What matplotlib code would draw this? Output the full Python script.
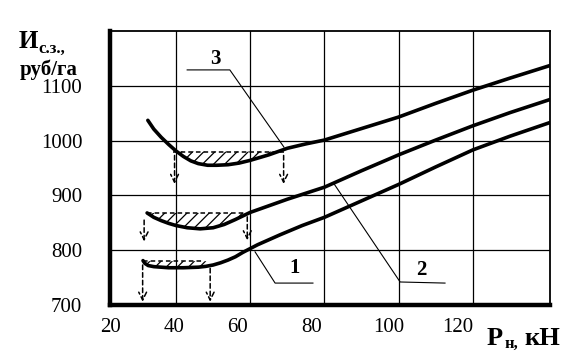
import numpy as np
import matplotlib.pyplot as plt

# Р_н (kN) vs И_с.з. (rub/ha)
p3 = [32.4, 34, 36, 38, 40, 42, 44, 46, 48.5, 51, 54, 57, 60, 65, 70, 75, 80, 90, 100, 110, 120, 130, 140.8]
c3 = [1037, 1021, 1006, 993, 981, 971, 963, 958, 955, 955, 956, 959, 964, 974, 986, 994, 1001, 1022, 1043, 1068, 1092, 1114, 1137]

p2 = [32.2, 34, 36, 38, 40, 43, 46.5, 50, 53, 56, 60, 65, 70, 75, 80, 90, 100, 110, 120, 130, 140.8]
c2 = [868, 860, 854, 849, 845, 841, 839, 841, 847, 856, 869, 881, 893, 904, 915, 945, 974, 1001, 1027, 1051, 1075]

p1 = [31.1, 31.6, 32.5, 34, 38, 42, 46, 48, 50, 52, 54, 56, 58, 62, 68, 74, 80, 90, 100, 110, 120, 130, 140.8]
c1 = [781, 776, 772, 770, 768, 768, 769, 770.5, 773, 777, 782, 788, 796, 810, 828, 845, 860, 890, 920, 952, 983, 1008, 1033]

# dashed levels with hatched zone below (level, x from, x to)
levels = [(980, 39.2, 69.0), (868, 32.2, 58.5), (780, 31.1, 47.0)]

# dashed arrows pointing down (x, y start, y end)
arrow_x = [39.6, 69.0, 31.4, 59.2, 31.0, 49.2]
arrow_y0 = [978, 978, 860, 866, 778, 772]
arrow_y1 = [916, 916, 811, 813, 701, 701]

# leader lines for curve numbers
lead3 = ([43, 54.5, 69.1], [1129, 1129, 988])
lead1 = ([61.3, 66.7, 76.9], [797, 740, 740])
lead2 = ([82.4, 100.4, 112.5], [923, 742, 740])
names = ['3', '1', '2']
name_x = [50.5, 72, 106]
name_y = [1149, 767, 764]

yticks = [700, 800, 900, 1000, 1100]
xgrid = [40, 60, 80, 100, 120]
xlabel_pos = [22.3, 39.5, 56.5, 76.6, 97.4, 116]
xlabel_txt = ['20', '40', '60', '80', '100', '120']

plt.rcParams['hatch.linewidth'] = 0.9

W, H = 586, 361
fig = plt.figure(figsize=(W / 100, H / 100), dpi=100)
ax = fig.add_axes([110 / W, 1 - 305 / H, 440 / W, 274 / H])
serif = ['Liberation Serif', 'DejaVu Serif']

ax.set_xlim(22.2, 140.8)
ax.set_ylim(700, 1200)

for xv in xgrid:
    ax.axvline(xv, color='black', lw=0.9, zorder=1)
for yv in yticks[1:]:
    ax.axhline(yv, color='black', lw=0.9, zorder=1)

for x, y in [(p3, c3), (p2, c2), (p1, c1)]:
    ax.plot(x, y, color='black', lw=2.6, solid_capstyle='round',
            solid_joinstyle='round', zorder=4)

for (lev, a, b), (x, y) in zip(levels, [(p3, c3), (p2, c2), (p1, c1)]):
    x = np.array(x)
    y = np.array(y)
    ax.plot([a, b], [lev, lev], color='black', lw=1.1, ls=(0, (3, 2)), zorder=3)
    m = (x >= a - 3) & (x <= b + 3)
    ax.fill_between(x[m], y[m], lev, where=(y[m] <= lev) & (x[m] >= a) & (x[m] <= b + 2),
                    interpolate=True, facecolor='none', edgecolor='black',
                    hatch='///', lw=0, zorder=2)

for x, y0, y1 in zip(arrow_x, arrow_y0, arrow_y1):
    ax.annotate('', xy=(x, y1), xytext=(x, y0),
                arrowprops=dict(arrowstyle='->', color='black', lw=1.1,
                                linestyle=(0, (3, 2)), mutation_scale=14),
                zorder=3)

for (lx, ly) in [lead3, lead1, lead2]:
    ax.plot(lx, ly, color='black', lw=0.8, zorder=3)
for t, x, y in zip(names, name_x, name_y):
    ax.text(x, y, t, ha='center', va='center', fontsize=15, fontweight='bold',
            family=serif, zorder=5)

ax.set_yticks(yticks)
ax.set_yticklabels([str(v) for v in yticks], family=serif, fontsize=15)
ax.set_xticks(xgrid)
ax.set_xticklabels([])
ax.set_xticks(xlabel_pos, minor=True)
ax.set_xticklabels(xlabel_txt, minor=True, family=serif, fontsize=15)
ax.tick_params(axis='both', which='both', length=0)
ax.tick_params(axis='y', pad=20)
ax.tick_params(axis='x', which='minor', pad=9)

ax.spines['left'].set_linewidth(3.2)
ax.spines['bottom'].set_linewidth(3.2)
ax.spines['top'].set_linewidth(1.3)
ax.spines['right'].set_linewidth(1.3)

def ftext(px, py, s, size, **kw):
    fig.text(px / W, 1 - py / H, s, fontsize=size, fontweight='bold',
             family=serif, va='baseline', **kw)

ftext(19, 48, 'И', 18)
ftext(38, 53, 'с.з.,', 12)
ftext(20, 75, 'руб/га', 15)
ftext(487, 345, 'Р', 19)
ftext(505, 348, 'н,', 12)
ftext(524, 345, 'кН', 19)

fig.savefig('out.png', dpi=100)
